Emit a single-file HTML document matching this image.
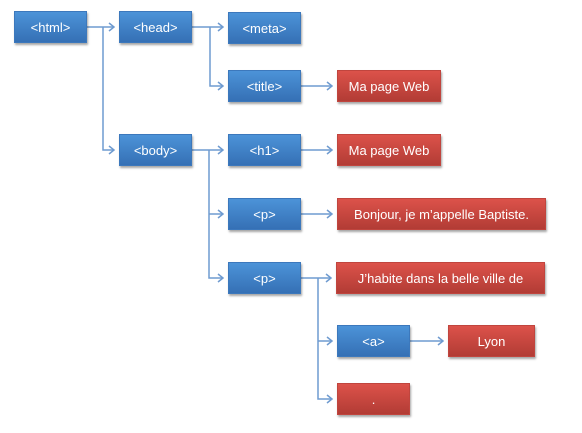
<!DOCTYPE html>
<html><head><meta charset="utf-8"><style>
body{margin:0;width:582px;height:433px;background:#fff;position:relative;overflow:hidden;font-family:"Liberation Sans",sans-serif}
.b{position:absolute;height:32px;line-height:32px;text-align:center;color:#fff;font-size:13px;box-shadow:1px 2px 2px rgba(0,0,0,.35);box-sizing:border-box}
.u{background:linear-gradient(#4c93d8,#3570b5);border:1px solid #3c78bc}
.r{background:linear-gradient(#dc524a,#b23c35);border:1px solid #c0453e}
svg{position:absolute;left:0;top:0}
</style></head><body>
<svg width="582" height="433"><g stroke="#6f9bd0" stroke-width="1.5" fill="none">
<path d="M87 27H113M103 27V150H113"/>
<path d="M192 27H222M210 27V86H222"/>
<path d="M301 86H331"/>
<path d="M192 150H222M209 150V278H222M209 214H222"/>
<path d="M301 150H331M301 214H331"/>
<path d="M301 278H330M318 278V399H331M318 341H331"/>
<path d="M410 341H442"/>
</g><g fill="none" stroke="#6f9bd0" stroke-width="1.5">
<path d="M109 23l5 4-5 4M218 23l5 4-5 4M218 82l5 4-5 4M327 82l5 4-5 4M109 146l5 4-5 4M218 146l5 4-5 4M327 146l5 4-5 4M218 210l5 4-5 4M327 210l5 4-5 4M218 274l5 4-5 4M326 274l5 4-5 4M327 337l5 4-5 4M327 395l5 4-5 4M438 337l5 4-5 4"/>
</g></svg>
<div class="b u" style="left:14px;top:11px;width:73px">&lt;html&gt;</div>
<div class="b u" style="left:119px;top:11px;width:73px">&lt;head&gt;</div>
<div class="b u" style="left:228px;top:12px;width:73px">&lt;meta&gt;</div>
<div class="b u" style="left:228px;top:70px;width:73px">&lt;title&gt;</div>
<div class="b r" style="left:337px;top:70px;width:104px">Ma page Web</div>
<div class="b u" style="left:119px;top:134px;width:73px">&lt;body&gt;</div>
<div class="b u" style="left:228px;top:134px;width:73px">&lt;h1&gt;</div>
<div class="b r" style="left:337px;top:134px;width:104px">Ma page Web</div>
<div class="b u" style="left:228px;top:198px;width:73px">&lt;p&gt;</div>
<div class="b r" style="left:337px;top:198px;width:209px">Bonjour, je m’appelle Baptiste.</div>
<div class="b u" style="left:228px;top:262px;width:73px">&lt;p&gt;</div>
<div class="b r" style="left:336px;top:262px;width:209px">J’habite dans la belle ville de</div>
<div class="b u" style="left:337px;top:325px;width:73px">&lt;a&gt;</div>
<div class="b r" style="left:448px;top:325px;width:87px">Lyon</div>
<div class="b r" style="left:337px;top:383px;width:73px">.</div>
</body></html>
